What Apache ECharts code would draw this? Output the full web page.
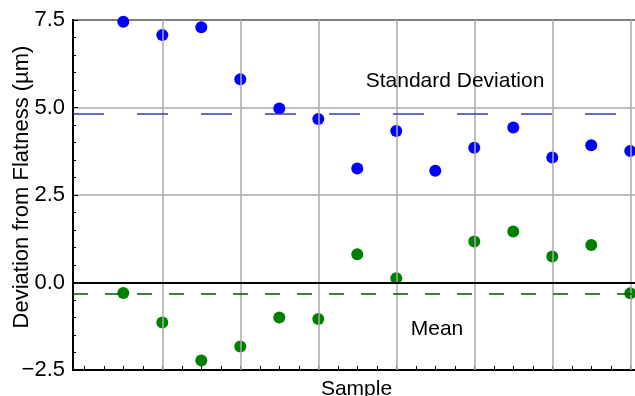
<!DOCTYPE html>
<html lang="en">
<head>
<meta charset="UTF-8" />
<title>Deviation from Flatness</title>
<style>
  html, body { margin: 0; padding: 0; background: #fff; }
  #chart { width: 635px; height: 396px; }
</style>
</head>
<body>
<div id="chart"></div>
<script src="https://cdn.jsdelivr.net/npm/echarts@6/dist/echarts.min.js"></script>
<script>
// samples along the x axis
const samples = [1, 2, 3, 4, 5, 6, 7, 8, 9, 10, 11, 12, 13, 14];
// standard deviation per sample (um)
const stdDev = [7.45, 7.07, 7.29, 5.81, 4.97, 4.67, 3.26, 4.33, 3.19, 3.85, 4.43, 3.57, 3.92, 3.76];
// mean deviation per sample (um), sample 9 not visible
const meanDev = [-0.30, -1.14, -2.23, -1.83, -1.00, -1.04, 0.81, 0.12, null, 1.17, 1.46, 0.74, 1.07, -0.31];
// reference levels
const stdLevel = 4.81;
const meanLevel = -0.31;
// vertical grid positions and small ticks on x
const xGrid = [2, 4, 6, 8, 10, 12, 14];
const xTicks = [];
for (let v = 0; v <= 14; v += 0.5) xTicks.push(v);

const X_MIN = -0.29, X_MAX = 14.25;
const FONT = '"Liberation Sans", Arial, sans-serif';

const chart = echarts.init(document.getElementById('chart'));

chart.setOption({
  animation: false,
  grid: {
    left: 73, right: -5, top: 20, bottom: 26, outerBoundsMode: 'none', containLabel: false,
    show: true, borderColor: '#000', borderWidth: 2
  },
  xAxis: {
    type: 'value', min: X_MIN, max: X_MAX,
    name: 'Sample', nameLocation: 'middle', nameGap: 9, nameMoveOverlap: false,
    nameTextStyle: { fontSize: 21, color: '#000', fontFamily: FONT },
    axisLine: { show: true, onZero: false, lineStyle: { color: '#000', width: 2 } },
    axisTick: { show: true, inside: true, length: 4, customValues: xTicks, lineStyle: { color: '#000' } },
    axisLabel: { show: false },
    splitLine: { show: false }
  },
  yAxis: {
    type: 'value', min: -2.5, max: 7.5, interval: 2.5,
    name: 'Deviation from Flatness (µm)', nameLocation: 'middle', nameGap: 40, nameMoveOverlap: false,
    nameTextStyle: { fontSize: 22, color: '#000', fontFamily: FONT, padding: [0, 0, 0, 16] },
    axisLine: { show: true, onZero: false, lineStyle: { color: '#000', width: 2 } },
    axisTick: { show: true, inside: true, length: 5, lineStyle: { color: '#000' } },
    minorTick: { show: true, splitNumber: 5, length: 3, lineStyle: { color: '#000' } },
    axisLabel: {
      fontSize: 22, color: '#000', fontFamily: FONT, margin: 8,
      formatter: v => v.toFixed(1).replace('-', '\u2212')
    },
    splitLine: { show: true, lineStyle: { color: '#aaaaaa', width: 1.5 } }
  },
  series: [
    {
      name: 'grid',
      type: 'scatter',
      data: [],
      silent: true,
      markLine: {
        silent: true, symbol: ['none', 'none'], label: { show: false },
        data: xGrid.map(v => ({ xAxis: v, lineStyle: { color: '#aaaaaa', width: 1.5, type: 'solid' } }))
          .concat([{ yAxis: 0, lineStyle: { color: '#000', width: 2, type: 'solid' } }])
      }
    },
    {
      name: 'Mean',
      type: 'scatter',
      symbolSize: 12,
      itemStyle: { color: '#008000', opacity: 1 },
      data: samples.map((s, i) => [s, meanDev[i]]),
      markLine: {
        silent: true, symbol: ['none', 'none'], label: { show: false },
        lineStyle: { color: '#005a00', width: 1.5, type: [15, 17] },
        data: [{ yAxis: meanLevel }]
      }
    },
    {
      name: 'Standard Deviation',
      type: 'scatter',
      symbolSize: 12,
      itemStyle: { color: '#0000ff', opacity: 1 },
      data: samples.map((s, i) => [s, stdDev[i]]),
      markLine: {
        silent: true, symbol: ['none', 'none'], label: { show: false },
        lineStyle: { color: '#3c3caa', width: 1.5, type: [31, 33] },
        data: [{ yAxis: stdLevel }]
      }
    }
  ],
  graphic: [
    { type: 'text', x: 455, y: 81, z: 100,
      style: { text: 'Standard Deviation', font: '21px ' + FONT, fill: '#000', align: 'center', verticalAlign: 'middle' } },
    { type: 'text', x: 437, y: 329, z: 100,
      style: { text: 'Mean', font: '21px ' + FONT, fill: '#000', align: 'center', verticalAlign: 'middle' } }
  ]
});
</script>
</body>
</html>
